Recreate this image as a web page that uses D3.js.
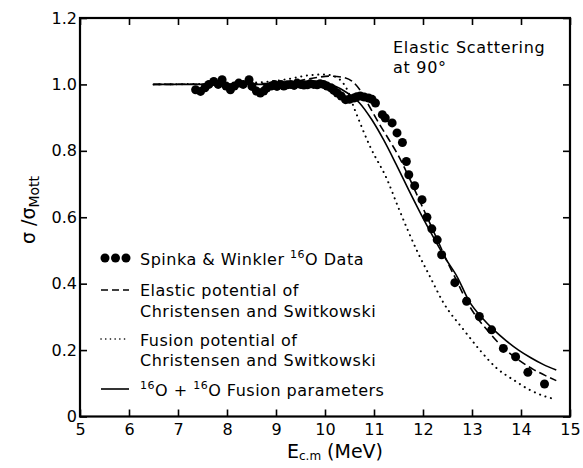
<!DOCTYPE html>
<html><head><meta charset="utf-8">
<script src="https://cdn.jsdelivr.net/npm/d3@7"></script>
<style>body{margin:0;background:#fff}svg{display:block}text{font-family:"DejaVu Sans",sans-serif;fill:#000}</style>
</head><body><svg id="c" width="583" height="468"></svg>
<script>
const xTicks=[5,6,7,8,9,10,11,12,13,14,15];
const yTicks=[0,0.2,0.4,0.6,0.8,1.0,1.2];
const yTickLabels=["0","0.2","0.4","0.6","0.8","1.0","1.2"];
const dataE=[7.36,7.46,7.55,7.63,7.73,7.82,7.9,7.98,8.07,8.15,8.24,8.33,8.45,8.51,8.6,8.68,8.75,8.81,8.9,8.97,9.02,9.1,9.16,9.23,9.3,9.37,9.43,9.5,9.57,9.64,9.7,9.77,9.84,9.9,9.97,10.04,10.12,10.18,10.25,10.33,10.42,10.5,10.59,10.65,10.72,10.8,10.89,10.96,11.03,11.17,11.23,11.37,11.47,11.58,11.66,11.71,11.83,11.98,12.08,12.18,12.29,12.38,12.65,12.89,13.15,13.4,13.64,13.89,14.14,14.48];
const dataV=[0.984,0.979,0.99,1.0,1.009,1.0,1.014,0.995,0.984,0.995,1.004,1.0,1.014,0.994,0.98,0.974,0.98,0.989,0.995,1.0,0.994,1.0,0.995,0.999,1.0,0.997,1.004,1.0,0.998,0.999,1.002,1.0,0.999,1.002,1.0,0.995,0.99,0.982,0.974,0.965,0.954,0.955,0.959,0.963,0.965,0.962,0.959,0.955,0.944,0.909,0.899,0.884,0.854,0.825,0.768,0.728,0.695,0.653,0.6,0.565,0.532,0.487,0.403,0.347,0.301,0.261,0.205,0.18,0.133,0.098];
const solidE=[6.5,9.0,9.6,9.9,10.2,10.45,10.7,10.95,11.2,11.45,11.7,11.95,12.2,12.45,12.7,12.95,13.2,13.45,13.7,13.95,14.2,14.45,14.72];
const solidV=[1.0,1.0,1.003,1.004,0.995,0.975,0.945,0.895,0.832,0.76,0.685,0.612,0.543,0.478,0.42,0.345,0.298,0.26,0.228,0.2,0.177,0.157,0.14];
const dashE=[6.5,9.0,9.5,9.8,10.1,10.35,10.55,10.72,10.9,11.1,11.3,11.5,11.7,11.9,12.1,12.3,12.5,12.7,12.9,13.1,13.3,13.5,13.75,14.0,14.25,14.5,14.72];
const dashV=[1.0,1.003,1.012,1.02,1.025,1.022,1.01,0.982,0.935,0.883,0.835,0.785,0.725,0.66,0.595,0.53,0.465,0.405,0.345,0.298,0.262,0.228,0.193,0.165,0.142,0.123,0.108];
const dotE=[6.5,8.5,9.2,9.7,10.0,10.25,10.45,10.61,10.92,11.27,11.5,11.9,12.14,12.42,12.83,13.16,13.5,13.85,14.18,14.46,14.62];
const dotV=[1.0,1.005,1.015,1.028,1.03,1.02,0.985,0.923,0.813,0.713,0.628,0.492,0.422,0.342,0.261,0.2,0.146,0.11,0.08,0.062,0.055];

const svg=d3.select("#c");
const L=80,R=570,T=18,B=416.5;
const x=d3.scaleLinear().domain([5,15]).range([L,R]);
const y=d3.scaleLinear().domain([0,1.2]).range([B,T]);
const tl=7;
svg.append("rect").attr("x",L).attr("y",T).attr("width",R-L).attr("height",B-T).attr("fill","none").attr("stroke","#000").attr("stroke-width",2.2);
const ax=[
 [d3.axisBottom(x).tickValues(xTicks).tickSize(-tl).tickPadding(0),`translate(0,${B})`],
 [d3.axisTop(x).tickValues(xTicks).tickSize(-tl).tickFormat(""),`translate(0,${T})`],
 [d3.axisLeft(y).tickValues(yTicks).tickSize(-tl).tickFormat((d,i)=>yTickLabels[i]),`translate(${L},0)`],
 [d3.axisRight(y).tickValues(yTicks).tickSize(-tl).tickFormat(""),`translate(${R},0)`]
];
ax.forEach(([a,t],i)=>{
 const g=svg.append("g").attr("transform",t).call(a);
 g.select(".domain").remove();
 g.selectAll(".tick line").attr("stroke","#000").attr("stroke-width",1.6);
 g.selectAll(".tick text").attr("font-size",16).attr("font-family","DejaVu Sans").attr("fill","#000");
 if(i===0) g.selectAll(".tick text").attr("y",13).attr("dy","0").attr("dominant-baseline","central");
 if(i===2) g.selectAll(".tick text").attr("x",-3);
});
const line=d3.line().x(d=>x(d[0])).y(d=>y(d[1])).curve(d3.curveMonotoneX);
svg.append("path").datum(d3.zip(dotE,dotV)).attr("d",line).attr("fill","none").attr("stroke","#000").attr("stroke-width",2).attr("stroke-dasharray","0.1,5.6").attr("stroke-linecap","round");
svg.append("path").datum(d3.zip(dashE,dashV)).attr("d",line).attr("fill","none").attr("stroke","#000").attr("stroke-width",1.6).attr("stroke-dasharray","8,4");
svg.append("path").datum(d3.zip(solidE,solidV)).attr("d",line).attr("fill","none").attr("stroke","#000").attr("stroke-width",1.6);
svg.append("g").selectAll("circle").data(d3.zip(dataE,dataV)).join("circle")
 .attr("cx",d=>x(d[0])).attr("cy",d=>y(d[1])).attr("r",4.5).attr("fill","#000");
// legend
const lg=svg.append("g");
const lx1=101,lx2=129,tx=140;
[0,1,2].forEach(i=>lg.append("circle").attr("cx",lx1+4+i*10.5).attr("cy",258).attr("r",4.5).attr("fill","#000"));
lg.append("line").attr("x1",lx1).attr("x2",lx2).attr("y1",290).attr("y2",290).attr("stroke","#000").attr("stroke-width",1.6).attr("stroke-dasharray","7,4");
lg.append("line").attr("x1",lx1).attr("x2",lx2).attr("y1",339).attr("y2",339).attr("stroke","#000").attr("stroke-width",1.6).attr("stroke-dasharray","0.1,4.6").attr("stroke-linecap","round");
lg.append("line").attr("x1",lx1).attr("x2",lx2).attr("y1",389).attr("y2",389).attr("stroke","#000").attr("stroke-width",1.6);
const FS=16,LS="0.5px";
function txt(t,xx,yy){return lg.append("text").attr("x",xx).attr("y",yy).attr("font-size",FS).attr("letter-spacing",LS).attr("dominant-baseline","central").text(t);}
const t1=txt("Spinka & Winkler ",tx,259);
t1.append("tspan").attr("font-size",11).attr("dy",-5).text("16");
t1.append("tspan").attr("dy",5).text("O Data");
txt("Elastic potential of",tx,290);
txt("Christensen and  Switkowski",tx,311);
txt("Fusion potential of",tx,340);
txt("Christensen and  Switkowski",tx,360);
const t4=lg.append("text").attr("x",tx).attr("y",390).attr("font-size",FS).attr("letter-spacing",LS).attr("dominant-baseline","central");
t4.append("tspan").attr("font-size",11).attr("dy",-5).text("16");
t4.append("tspan").attr("dy",5).text("O + ");
t4.append("tspan").attr("font-size",11).attr("dy",-5).text("16");
t4.append("tspan").attr("dy",5).text("O  Fusion parameters");
svg.append("text").attr("x",393).attr("y",47).attr("font-size",FS).attr("letter-spacing","0.7px").attr("dominant-baseline","central").text("Elastic  Scattering");
svg.append("text").attr("x",393).attr("y",67).attr("font-size",FS).attr("letter-spacing","0.7px").attr("dominant-baseline","central").text("at 90°");
const xl=svg.append("text").attr("x",335).attr("y",451).attr("font-size",19).attr("text-anchor","middle").attr("dominant-baseline","central");
xl.append("tspan").text("E");
xl.append("tspan").attr("font-size",12).attr("dy",5).text("c.m");
xl.append("tspan").attr("dy",-5).text(" (MeV)");
const yl=svg.append("text").attr("transform","translate(28,210) rotate(-90)").attr("font-size",19).attr("text-anchor","middle").attr("dominant-baseline","central");
yl.append("tspan").text("σ /σ");
yl.append("tspan").attr("font-size",14).attr("dy",6).text("Mott");
</script></body></html>
